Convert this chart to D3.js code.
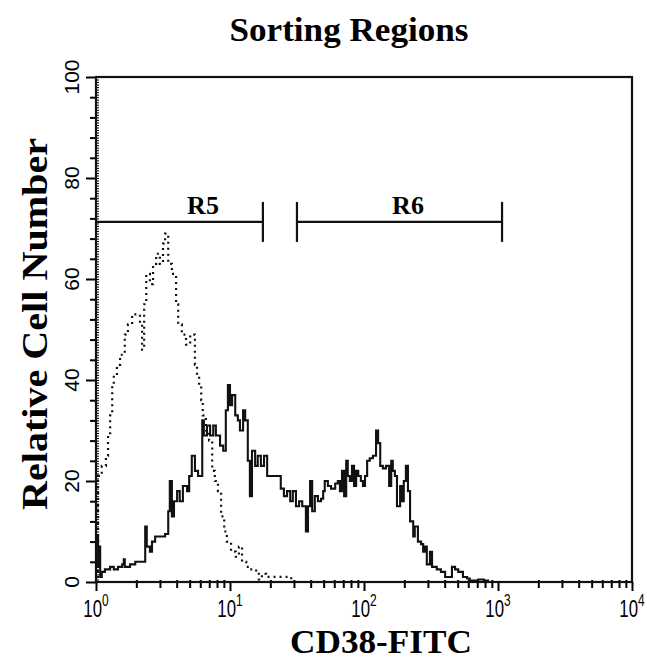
<!DOCTYPE html>
<html>
<head>
<meta charset="utf-8">
<script src="https://cdn.jsdelivr.net/npm/d3@7"></script>
<style>
  body { margin: 0; background: #fff; }
  svg { display: block; }
</style>
</head>
<body>
<svg id="chart" width="647" height="659"></svg>
<script>
// CD38-FITC histogram, channels on a 4 decade log scale (256 channels / decade)
var testChannels = [0, 4, 6, 8, 11, 17, 27, 34, 42, 50, 53, 55, 65, 75, 84, 94, 97, 103, 107, 113,
  122, 132, 138, 141, 145, 149, 155, 160, 166, 174, 178, 183, 189, 195, 203, 206, 212, 218, 224, 229,
  237, 243, 248, 252, 256, 260, 266, 271, 275, 281, 285, 290, 294, 298, 304, 309, 315, 321, 327, 336,
  348, 353, 359, 365, 371, 376, 382, 388, 394, 401, 405, 409, 413, 418, 424, 430, 434, 437, 443, 449,
  457, 462, 466, 470, 474, 478, 481, 485, 489, 493, 497, 501, 506, 510, 514, 518, 523, 529, 535, 539,
  543, 548, 554, 560, 564, 567, 571, 575, 581, 585, 588, 592, 596, 600, 606, 609, 615, 621, 625, 629,
  632, 638, 642, 651, 659, 667, 680, 686, 692, 701, 709, 714, 730, 741, 749, 760];
var testCounts = [9, 3, 7, 1, 2, 2.5, 3, 2.5, 3, 3.5, 4.5, 3, 3.5, 4, 4, 11, 7, 6, 8, 9,
  9, 9.5, 14, 20, 13, 16, 18, 16, 19, 18, 21, 25, 22, 21, 32, 29, 31, 29, 31, 29,
  27, 26, 34, 39, 35, 37, 33, 32, 30, 34, 32, 24, 17, 26, 23, 25, 23, 25, 21, 21,
  21, 18.5, 17, 18, 16, 18, 15, 16, 15, 10, 15, 20, 14, 17, 16, 16.5, 18, 20, 19, 18.5,
  19.5, 20, 18, 22, 17, 24, 21, 20, 23, 19, 22, 21, 20, 19, 21, 24, 24.5, 25, 30, 27.5,
  23, 22.5, 23, 19, 24, 22, 21, 15, 19, 16, 20, 23, 18, 12, 9, 11, 8, 7.5, 6, 7,
  3.5, 6, 3, 2.5, 2, 1, 3, 2.5, 2, 1, 0.7, 0.3, 0.5, 0.3, 0, 0];

// isotype control (dotted)
var controlChannels = [0, 4, 11, 19, 23, 27, 31, 34, 40, 46, 55, 61, 69, 84, 88, 92, 96, 103, 109, 115,
  122, 128, 132, 138, 145, 153, 157, 164, 172, 180, 189, 193, 197, 201, 204, 210, 216, 222, 227, 233,
  239, 245, 250, 258, 267, 273, 279, 287, 294, 306, 311, 317, 325, 373];
var controlCounts = [0, 21, 23, 25, 29, 33, 39, 41, 43, 45, 49, 51, 53, 51, 46, 55, 61, 59, 63, 65,
  63, 67, 69, 63, 61, 55, 51, 49, 47, 49, 43, 41, 39, 36, 33, 30, 28, 22, 20, 18,
  13, 10, 8, 6, 5, 7, 4, 3, 2.5, 2, 0.5, 1.6, 1, 0];

// sorting regions
var regionNames = ["R5", "R6"];
var regionStart = [1, 31.6];
var regionEnd = [17.6, 1072];
var regionLevel = 71.3;

var yTicks = [0, 20, 40, 60, 80, 100];
var xDecades = [1, 10, 100, 1000, 10000];
var xExponents = ["0", "1", "2", "3", "4"];

var svg = d3.select("#chart");

var x = d3.scaleLog().domain([1, 10000]).range([96, 632]);
var y = d3.scaleLinear().domain([0, 100]).range([582, 77]);

var serif = "Liberation Serif, Times New Roman, serif";
var sans = "Liberation Sans, Arial, sans-serif";

function chanToValue(c) { return Math.pow(10, c / 256); }

// title
svg.append("text")
    .attr("x", 349).attr("y", 41)
    .attr("text-anchor", "middle")
    .attr("font-family", serif)
    .attr("font-weight", "bold")
    .attr("font-size", 33)
    .attr("textLength", 239)
    .attr("lengthAdjust", "spacingAndGlyphs")
    .text("Sorting Regions");

// y axis: minor, fine and major ticks
svg.append("g")
    .attr("transform", "translate(96,0)")
    .call(d3.axisLeft(y).tickValues(d3.range(0, 101, 4).filter(function (d) { return d % 20 != 0; }))
        .tickSize(6).tickFormat(""))
    .call(function (g) { g.select(".domain").remove(); })
    .selectAll("line").attr("stroke-width", 2);

svg.append("g")
    .attr("transform", "translate(96,0)")
    .call(d3.axisRight(y).ticks(200).tickSize(3).tickFormat(""))
    .call(function (g) { g.select(".domain").remove(); })
    .selectAll("line").attr("stroke-width", 1);

var yAxis = svg.append("g")
    .attr("transform", "translate(96,0)")
    .call(d3.axisLeft(y).tickValues(yTicks).tickSize(10).tickFormat(""));
yAxis.select(".domain").remove();
yAxis.selectAll("line").attr("stroke-width", 2);

svg.append("g").selectAll("text")
    .data(yTicks)
    .join("text")
    .attr("transform", function (d) { return "translate(79," + y(d) + ") rotate(-90)"; })
    .attr("text-anchor", "middle")
    .attr("font-family", sans)
    .attr("font-size", 21)
    .text(function (d) { return d; });

// x axis: log ticks
var minorX = [];
xDecades.slice(0, 4).forEach(function (dec) {
    for (var k = 2; k < 10; k++) minorX.push(dec * k);
});
var xMinor = svg.append("g")
    .attr("transform", "translate(0,582)")
    .call(d3.axisBottom(x).tickValues(minorX).tickSize(6).tickFormat(""));
xMinor.select(".domain").remove();
xMinor.selectAll("line").attr("stroke-width", 2).attr("y1", -2);

var xAxis = svg.append("g")
    .attr("transform", "translate(0,582)")
    .call(d3.axisBottom(x).tickValues(xDecades).tickSize(9).tickFormat(""));
xAxis.select(".domain").remove();
xAxis.selectAll("line").attr("stroke-width", 2);

var xLabels = svg.append("g").selectAll("text")
    .data(xDecades)
    .join("text")
    .attr("transform", function (d) { return "translate(" + x(d) + ",617) scale(0.7,1)"; })
    .attr("text-anchor", "middle")
    .attr("font-family", sans)
    .attr("font-size", 24);
xLabels.append("tspan").text("10");
xLabels.append("tspan")
    .attr("dy", -11)
    .attr("font-size", 17)
    .text(function (d, i) { return xExponents[i]; });

// frame
svg.append("rect")
    .attr("x", 96).attr("y", 77)
    .attr("width", 536).attr("height", 505)
    .attr("fill", "none")
    .attr("stroke", "#111")
    .attr("stroke-width", 2.2);

// histograms
var line = d3.line()
    .curve(d3.curveStepAfter)
    .x(function (d) { return x(chanToValue(d[0])); })
    .y(function (d) { return y(d[1]); });

var control = d3.zip(controlChannels, controlCounts);
svg.append("path")
    .datum(control)
    .attr("d", line)
    .attr("fill", "none")
    .attr("stroke", "#111")
    .attr("stroke-width", 2.2)
    .attr("stroke-dasharray", "2,4");

var test = d3.zip(testChannels, testCounts);
svg.append("path")
    .datum(test)
    .attr("d", line)
    .attr("fill", "none")
    .attr("stroke", "#111")
    .attr("stroke-width", 2.1);

// region markers
var regions = svg.append("g").selectAll("g")
    .data(regionNames)
    .join("g");
regions.append("line")
    .attr("x1", function (d, i) { return x(regionStart[i]); })
    .attr("x2", function (d, i) { return x(regionEnd[i]); })
    .attr("y1", y(regionLevel)).attr("y2", y(regionLevel))
    .attr("stroke", "#111").attr("stroke-width", 2.2);
regions.append("line")
    .attr("x1", function (d, i) { return x(regionEnd[i]); })
    .attr("x2", function (d, i) { return x(regionEnd[i]); })
    .attr("y1", y(regionLevel) - 20).attr("y2", y(regionLevel) + 20)
    .attr("stroke", "#111").attr("stroke-width", 2.2);
regions.filter(function (d, i) { return i > 0; }).append("line")
    .attr("x1", x(regionStart[1]))
    .attr("x2", x(regionStart[1]))
    .attr("y1", y(regionLevel) - 20).attr("y2", y(regionLevel) + 20)
    .attr("stroke", "#111").attr("stroke-width", 2.2);
regions.append("text")
    .attr("x", function (d, i) { return [203, 408][i]; })
    .attr("y", y(regionLevel) - 8)
    .attr("text-anchor", "middle")
    .attr("font-family", serif)
    .attr("font-weight", "bold")
    .attr("font-size", 26)
    .text(function (d) { return d; });

// axis titles
svg.append("text")
    .attr("x", 381).attr("y", 653)
    .attr("text-anchor", "middle")
    .attr("font-family", serif)
    .attr("font-weight", "bold")
    .attr("font-size", 34)
    .attr("textLength", 182)
    .attr("lengthAdjust", "spacingAndGlyphs")
    .text("CD38-FITC");

svg.append("text")
    .attr("transform", "translate(47,324) rotate(-90)")
    .attr("text-anchor", "middle")
    .attr("font-family", serif)
    .attr("font-weight", "bold")
    .attr("font-size", 36)
    .attr("textLength", 372)
    .attr("lengthAdjust", "spacingAndGlyphs")
    .text("Relative Cell Number");
</script>
</body>
</html>
